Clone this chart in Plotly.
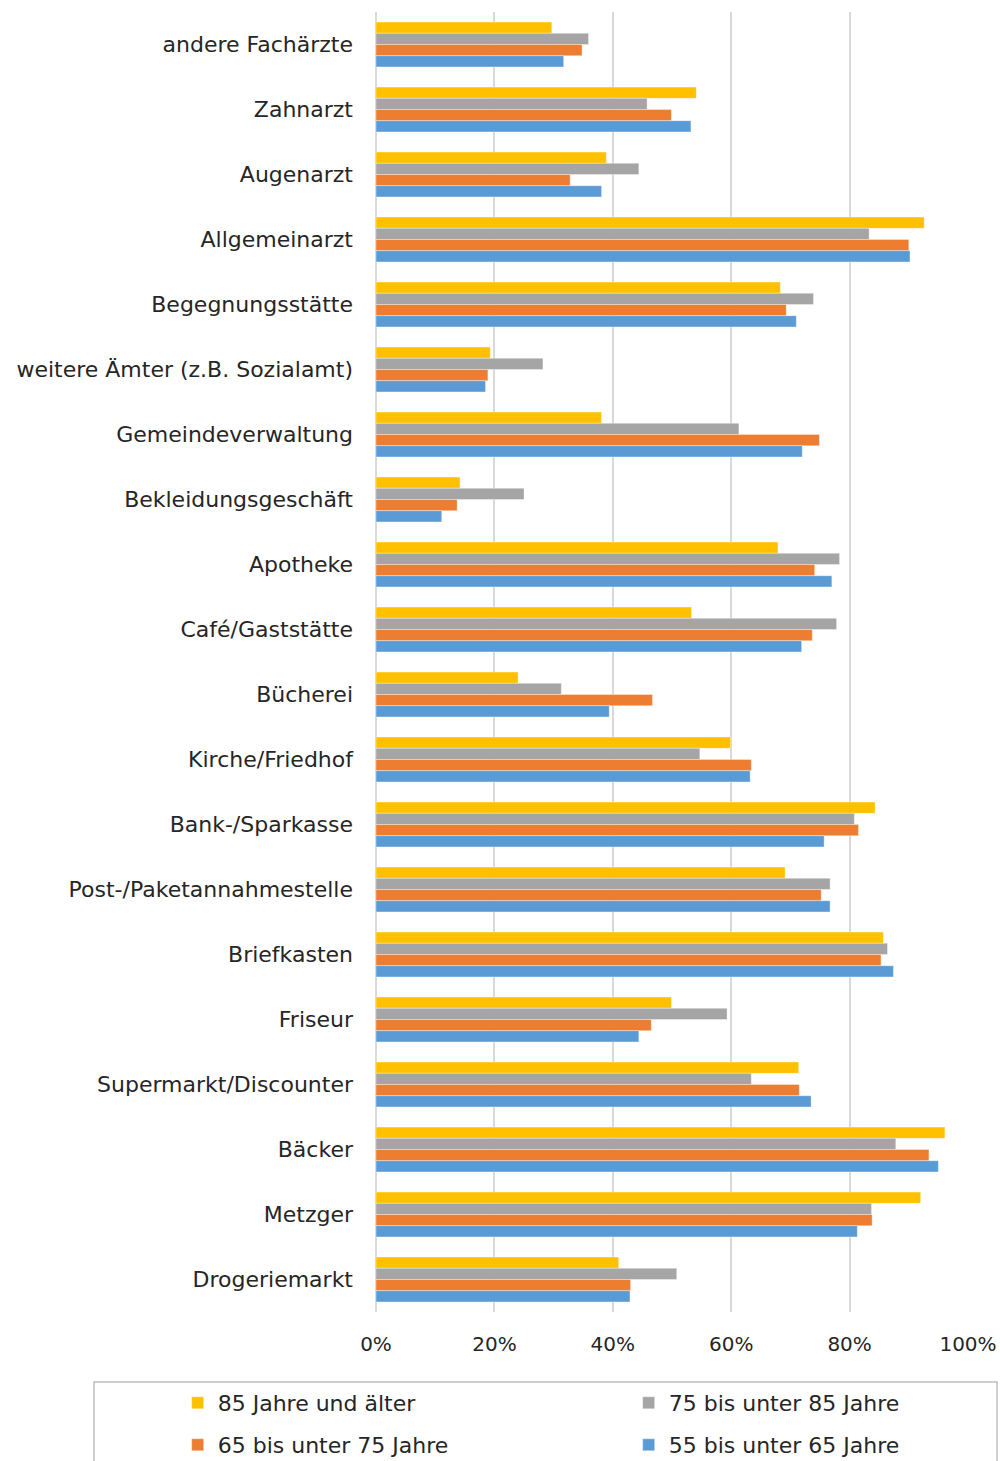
import plotly.graph_objects as go

# Categories, top to bottom as shown in the chart
categories = ["andere Fachärzte", "Zahnarzt", "Augenarzt", "Allgemeinarzt",
              "Begegnungsstätte", "weitere Ämter (z.B. Sozialamt)",
              "Gemeindeverwaltung", "Bekleidungsgeschäft", "Apotheke",
              "Café/Gaststätte", "Bücherei", "Kirche/Friedhof",
              "Bank-/Sparkasse", "Post-/Paketannahmestelle", "Briefkasten",
              "Friseur", "Supermarkt/Discounter", "Bäcker", "Metzger",
              "Drogeriemarkt"]

# Shares in percent
age_85_plus = [29.7, 54.1, 38.9, 92.6, 68.3, 19.3, 38.1, 14.2, 67.9, 53.3,
               24.0, 59.9, 84.3, 69.1, 85.7, 49.9, 71.4, 96.1, 92.0, 41.0]
age_75_85 = [35.9, 45.8, 44.4, 83.3, 73.9, 28.2, 61.3, 25.0, 78.3, 77.8,
             31.3, 54.7, 80.8, 76.7, 86.4, 59.3, 63.4, 87.8, 83.7, 50.8]
age_65_75 = [34.8, 49.9, 32.8, 90.0, 69.3, 18.9, 74.9, 13.7, 74.1, 73.7,
             46.7, 63.4, 81.5, 75.2, 85.3, 46.5, 71.5, 93.4, 83.8, 43.0]
age_55_65 = [31.7, 53.2, 38.1, 90.2, 71.0, 18.5, 72.0, 11.1, 77.0, 71.9,
             39.4, 63.2, 75.7, 76.7, 87.4, 44.4, 73.5, 95.0, 81.3, 42.9]

# name, values, colour, legend (two legend rows like the original)
series = [
    ("85 Jahre und älter", age_85_plus, "#FFC000", "legend"),
    ("75 bis unter 85 Jahre", age_75_85, "#A5A5A5", "legend"),
    ("65 bis unter 75 Jahre", age_65_75, "#ED7D31", "legend2"),
    ("55 bis unter 65 Jahre", age_55_65, "#5B9BD5", "legend2"),
]

FONT = "DejaVu Sans"
TEXT = "#262626"

fig = go.Figure()
for name, values, color, leg in series:
    fig.add_trace(go.Bar(
        y=categories,
        x=[v / 100 for v in values],
        name=name,
        legend=leg,
        orientation="h",
        marker=dict(color=color, line=dict(color="rgba(255,255,255,0.6)", width=0.6)),
    ))

legend_style = dict(
    orientation="h",
    x=-0.335, xanchor="left", yanchor="middle",
    entrywidth=406, entrywidthmode="pixels",
    font=dict(size=22, family=FONT, color=TEXT),
    bgcolor="rgba(0,0,0,0)",
)

fig.update_layout(
    width=1000, height=1461,
    margin=dict(l=376, r=32, t=12, b=149, autoexpand=False),
    barmode="group",
    bargap=0.31,
    bargroupgap=0,
    plot_bgcolor="white",
    paper_bgcolor="white",
    font=dict(family=FONT, color=TEXT),
    showlegend=True,
    legend=dict(legend_style, y=-0.070),
    legend2=dict(legend_style, y=-0.1023),
    shapes=[dict(type="rect", xref="paper", yref="paper",
                 x0=-0.4764, x1=1.049, y0=-0.13, y1=-0.05385,
                 line=dict(color="#BFBFBF", width=1.5), fillcolor="rgba(0,0,0,0)")],
)

fig.update_xaxes(
    range=[0, 1],
    tickvals=[0, 0.2, 0.4, 0.6, 0.8, 1.0],
    tickformat=".0%",
    showgrid=True, gridcolor="#D9D9D9", gridwidth=1.5,
    zeroline=True, zerolinecolor="#D9D9D9", zerolinewidth=1.5,
    showline=False,
    tickfont=dict(size=20, family=FONT, color=TEXT),
    ticks="", ticklabelstandoff=18,
)
fig.update_yaxes(
    autorange="reversed",
    showgrid=False, showline=False, ticks="",
    tickfont=dict(size=22, family=FONT, color=TEXT),
    ticklabelstandoff=22,
)

# drop the default page margin so the figure sits at the window origin
fig.write_html("out.html", config={"displayModeBar": False},
               post_script="document.body.style.margin = '0';")
